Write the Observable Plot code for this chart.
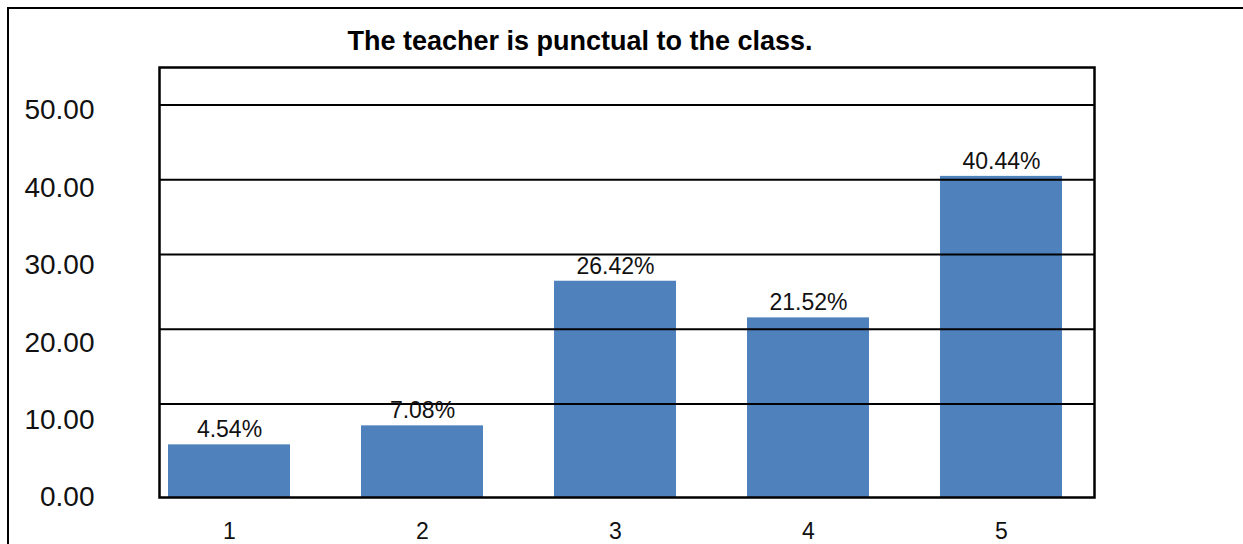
<!DOCTYPE html>
<html>
<head>
<meta charset="utf-8">
<script src="https://cdn.jsdelivr.net/npm/d3@7"></script>
<script src="https://cdn.jsdelivr.net/npm/@observablehq/plot@0.6"></script>
<style>
  html, body { margin: 0; padding: 0; background: #fff; overflow: hidden; }
  #wrap { position: relative; width: 1243px; height: 544px; overflow: hidden; }
  #border { position: absolute; left: 7px; top: 7px; width: 1400px; height: 700px; border: 2px solid #000; box-sizing: border-box; }
  #chart { position: absolute; left: 0; top: 0; }
</style>
</head>
<body>
<div id="wrap"><div id="border"></div><div id="chart"></div></div>
<script>
const title = "The teacher is punctual to the class.";
const categories = ["1", "2", "3", "4", "5"];
const values = [4.54, 7.08, 26.42, 21.52, 40.44];
const valueLabels = ["4.54%", "7.08%", "26.42%", "21.52%", "40.44%"];
const gridValues = [10, 20, 30, 40, 50];
const yTickValues = [0, 10, 20, 30, 40, 50];
const yTickLabels = ["0.00", "10.00", "20.00", "30.00", "40.00", "50.00"];

const data = categories.map((c, i) => ({cat: c, value: values[i], label: valueLabels[i]}));

// y scale bounds (the value axis starts a little below zero in the picture)
const yMin = -2.5, yMax = 55;
// axis labels are spread evenly from the frame bottom up to this value
const labelTop = 49.26;
const ticks = yTickValues.map((t, i) => ({pos: yMin + t * (labelTop - yMin) / 50, text: yTickLabels[i]}));

const font = "'Liberation Sans', Arial, sans-serif";

const chart = Plot.plot({
  width: 1243,
  height: 544,
  marginLeft: 159,
  marginRight: 149,
  marginTop: 67,
  marginBottom: 47,
  style: {fontFamily: font, background: "transparent", overflow: "visible"},
  x: {type: "band", domain: categories, range: [131.5, 1097.75], paddingInner: 0.37, paddingOuter: 0.185, axis: null, label: null},
  y: {domain: [yMin, yMax], axis: null, label: null},
  marks: [
    Plot.barY(data, {x: "cat", y1: yMin, y2: "value", fill: "#4F81BD"}),
    Plot.ruleY(gridValues, {stroke: "#000", strokeWidth: 2}),
    Plot.frame({stroke: "#000", strokeWidth: 2.5}),
    Plot.text(data, {x: "cat", y: "value", text: "label", dy: -15, fontSize: 23, fill: "#111"}),
    Plot.text(ticks, {y: "pos", text: "text", frameAnchor: "left", textAnchor: "end", dx: -65, fontSize: 28, fill: "#111"}),
    Plot.axisX({tickSize: 0, tickPadding: 25, fontSize: 23, fill: "#111", label: null}),
    Plot.text([title], {frameAnchor: "top", dx: -47, dy: -37, fontSize: 27, fontWeight: "bold", fill: "#000"})
  ]
});
document.getElementById("chart").appendChild(chart);
</script>
</body>
</html>
